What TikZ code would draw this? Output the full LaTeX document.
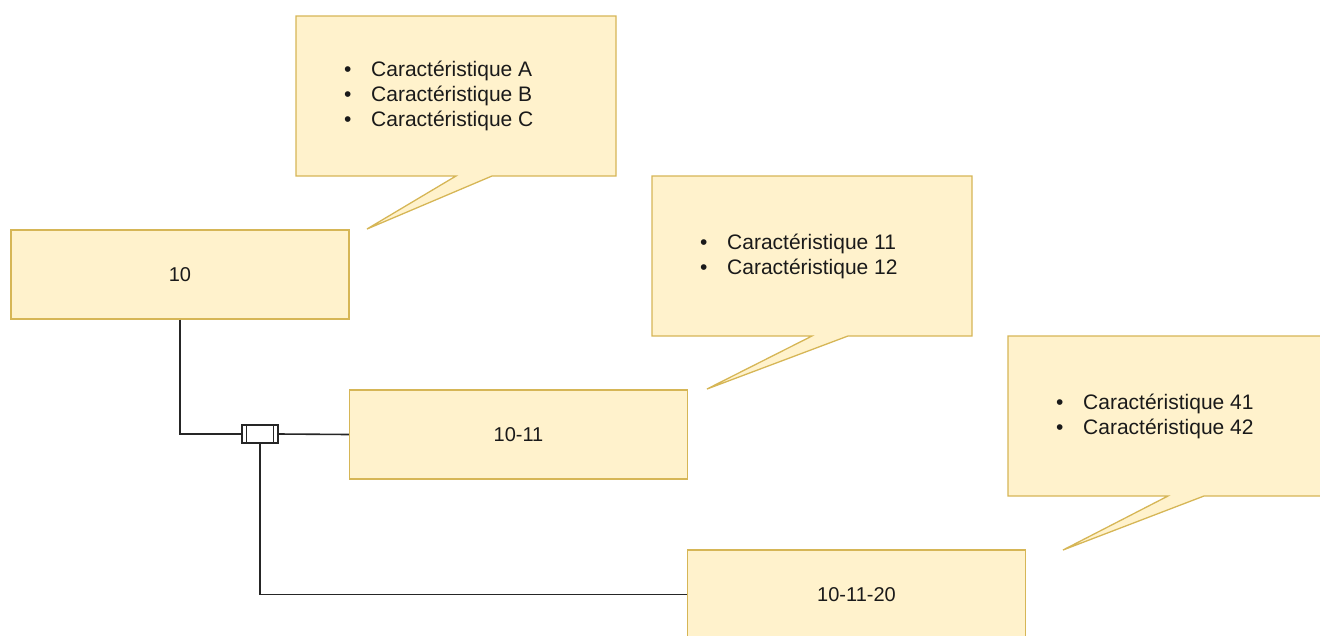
\documentclass[tikz,border=0pt]{standalone}
\usepackage{fontspec}
\setmainfont{Liberation Sans}
\usetikzlibrary{calc}

\definecolor{jaune}{HTML}{FFF2CC}
\definecolor{ocre}{HTML}{D6B656}
\definecolor{encre}{HTML}{1A1A1A}

\tikzstyle{boite} = [style={rectangle,draw=ocre,fill=jaune,line width=1.3pt,minimum width=338pt,minimum height=89pt,inner sep=0pt,text=encre,font=\fontsize{20}{24}\selectfont}]
\tikzstyle{bulle} = [style={draw=ocre,fill=jaune,line width=1.3pt,line join=miter}]
\tikzstyle{liste} = [style={anchor=west,align=left,inner sep=0pt,text=encre,font=\fontsize{21}{25}\selectfont}]
\tikzstyle{fil} = [style={line width=1.6pt,black!85}]
\tikzstyle{jonction} = [style={rectangle,draw=black!85,fill=white,line width=1.3pt,minimum width=36pt,minimum height=18pt,inner sep=0pt}]

\newcommand*{\puce}{\makebox[27pt][l]{\textbullet}}
\newcommand*{\largeur}{320}
\newcommand*{\hauteur}{160}

\begin{document}
\begin{tikzpicture}[x=1pt,y=-1pt]
\useasboundingbox (0,0) rectangle (1320,635);

%% callouts
\coordinate (c1) at (296,16);
\coordinate (c2) at (652,176);
\coordinate (c3) at (1008,336);
\coordinate (p1) at (367,229);
\coordinate (p2) at (707,389);
\coordinate (p3) at (1063,550);

\foreach \n in {1,2,3}
  {
  \draw[bulle] (c\n) -- ++(\largeur,0) -- ++(0,\hauteur) -- ++(-124,0)
    -- (p\n) -- ($(c\n)+(160,\hauteur)$) -- ($(c\n)+(0,\hauteur)$) -- cycle;
  }

\node[liste] (l1) at ($(c1)+(48,80)$) {\puce Caractéristique A\\\puce Caractéristique B\\\puce Caractéristique C};
\node[liste] (l2) at ($(c2)+(48,80)$) {\puce Caractéristique 11\\\puce Caractéristique 12};
\node[liste] (l3) at ($(c3)+(48,80)$) {\puce Caractéristique 41\\\puce Caractéristique 42};

%% blocks
\node[boite] (b10) at (180,274.5) {10};
\node[boite] (b1011) at (518.5,434.5) {10-11};
\node[boite] (b101120) at (856.5,594.5) {10-11-20};

%% junction
\node[jonction] (jonc) at (260,434) {};
\draw[line width=1.3pt,black!85] ($(jonc.north west)+(5,0)$) -- ($(jonc.south west)+(5,0)$)
  ($(jonc.north east)+(-5,0)$) -- ($(jonc.south east)+(-5,0)$);

%% wires
\draw[fil] (b10.south) |- (jonc.west);
\draw[fil] (jonc.east) -- (b1011.west);
\draw[fil] (jonc.south) |- (b101120.west);

\end{tikzpicture}
\end{document}
